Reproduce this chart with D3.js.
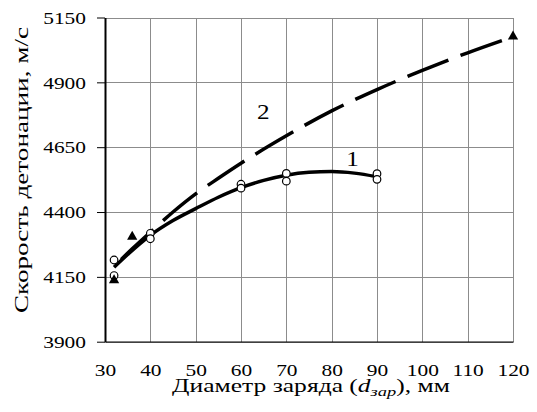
<!DOCTYPE html>
<meta charset="utf-8">
<style>
body { margin: 0; background: #fff; }
.grid line { stroke: #8c8c8c; stroke-width: 1; shape-rendering: crispEdges; }
</style>
<svg width="537" height="412"></svg>
<script src="https://d3js.org/d3.v7.min.js"></script>
<script>

// ticks
var xTicks = [30, 40, 50, 60, 70, 80, 90, 100, 110, 120];
var yTicks = [3900, 4150, 4400, 4650, 4900, 5150];

// curve 1 (solid, fitted)
var fit1X = [32, 35, 40, 45, 50, 55, 60, 65, 70, 75, 80, 85, 90];
var fit1Y = [4187, 4236, 4310, 4367, 4413, 4457, 4494, 4522, 4542, 4553, 4556, 4550, 4536];

// curve 2 (dashed, fitted)
var fit2X = [32, 36, 40, 45, 50, 55, 60, 70, 80, 90, 100, 110, 120];
var fit2Y = [4190, 4258, 4322, 4400, 4470, 4530, 4588, 4694, 4790, 4872, 4946, 5014, 5076];

// measured points, series 1 (open circles)
var pts1X = [32, 32, 40, 40, 60, 60, 70, 70, 90, 90];
var pts1Y = [4215, 4155, 4318, 4297, 4507, 4492, 4549, 4519, 4548, 4526];

// measured points, series 2 (triangles)
var pts2X = [32, 36, 120];
var pts2Y = [4137, 4305, 5077];

var curveLabels = ["1", "2"];
var labelX = [84.6, 64.9];
var labelY = [4603, 4787];

var svg = d3.select("svg");
var serif = "Liberation Serif";
var sx = 1.26; // glyphs in the picture are wider than plain Times

var x = d3.scaleLinear().domain([30, 120]).range([105, 513]);
var y = d3.scaleLinear().domain([3900, 5150]).range([341.7, 17.5]);

// grid
var grid = svg.append("g").attr("class", "grid");
grid.selectAll(".v")
  .data(xTicks.slice(1))
  .enter().append("line")
    .attr("x1", function(d) { return Math.round(x(d)) + 0.5; })
    .attr("x2", function(d) { return Math.round(x(d)) + 0.5; })
    .attr("y1", y(5150))
    .attr("y2", y(3900));
grid.selectAll(".h")
  .data(yTicks.slice(1))
  .enter().append("line")
    .attr("x1", x(30))
    .attr("x2", x(120))
    .attr("y1", function(d) { return Math.round(y(d)) + 0.5; })
    .attr("y2", function(d) { return Math.round(y(d)) + 0.5; });

// axes
var gy = svg.append("g")
    .attr("transform", "translate(" + x(30) + ",0)")
    .call(d3.axisLeft(y).tickValues(yTicks).tickFormat(d3.format("d")).tickSize(8).tickSizeOuter(0));
gy.select(".domain").attr("stroke", "#000").attr("stroke-width", 2);
gy.selectAll(".tick line").attr("stroke", "#000");
gy.selectAll(".tick text")
    .attr("x", 0).attr("dy", "0.34em")
    .style("font-family", serif)
    .style("font-size", "17px")
    .attr("transform", "translate(-19,0) scale(" + sx + ",1)");

var gx = svg.append("g")
    .attr("transform", "translate(0," + y(3900) + ")")
    .call(d3.axisBottom(x).tickValues(xTicks).tickSize(0).tickSizeOuter(0));
gx.select(".domain").attr("stroke", "#000").attr("stroke-width", 1.3);
gx.selectAll(".tick text")
    .attr("y", 0).attr("dy", null)
    .style("font-family", serif)
    .style("font-size", "17px")
    .attr("transform", "translate(0,34) scale(" + sx + ",1)");

// axis titles
svg.append("text")
    .attr("transform", "translate(311,392) scale(1.42,1)")
    .attr("text-anchor", "middle")
    .style("font-family", serif)
    .style("font-size", "18px")
    .call(function(t) {
      t.append("tspan").text("Диаметр заряда (");
      t.append("tspan").attr("font-style", "italic").text("d");
      t.append("tspan").attr("font-style", "italic").style("font-size", "13px").attr("dy", 4).text("зар");
      t.append("tspan").attr("dy", -4).text("), мм");
    });

svg.append("text")
    .attr("transform", "translate(28,170) rotate(-90) scale(1.43,1)")
    .attr("text-anchor", "middle")
    .style("font-family", serif)
    .style("font-size", "19px")
    .text("Скорость детонации, м/с");

// curves
var line = d3.line()
    .x(function(d) { return x(d[0]); })
    .y(function(d) { return y(d[1]); })
    .curve(d3.curveMonotoneX);

var dash = [44, 13];
var dashed = svg.append("path")
    .datum(d3.zip(fit2X, fit2Y))
    .attr("fill", "none")
    .attr("stroke", "#000")
    .attr("stroke-width", 3.5)
    .attr("d", line);

// line the dash phase up with a dash that starts near x = 63
var node = dashed.node(), total = node.getTotalLength(), s = 0;
while (s < total && node.getPointAtLength(s).x < x(63.1)) s += 0.5;
var period = dash[0] + dash[1];
dashed.attr("stroke-dasharray", dash.join(","))
    .attr("stroke-dashoffset", ((period - s % period) % period));

svg.append("path")
    .datum(d3.zip(fit1X, fit1Y))
    .attr("fill", "none")
    .attr("stroke", "#000")
    .attr("stroke-width", 3.5)
    .attr("d", line);

// markers
svg.append("g").selectAll("circle")
  .data(d3.zip(pts1X, pts1Y))
  .enter().append("circle")
    .attr("cx", function(d) { return x(d[0]); })
    .attr("cy", function(d) { return y(d[1]); })
    .attr("r", 3.8)
    .attr("fill", "#fff")
    .attr("stroke", "#000")
    .attr("stroke-width", 1.2);

svg.append("g").selectAll("path")
  .data(d3.zip(pts2X, pts2Y))
  .enter().append("path")
    .attr("transform", function(d) { return "translate(" + x(d[0]) + "," + y(d[1]) + ")"; })
    .attr("d", d3.symbol(d3.symbolTriangle).size(46))
    .attr("fill", "#000");

// curve labels
svg.append("g").selectAll("text")
  .data(curveLabels)
  .enter().append("text")
    .attr("transform", function(d, i) { return "translate(" + x(labelX[i]) + "," + y(labelY[i]) + ") scale(" + sx + ",1)"; })
    .attr("text-anchor", "middle")
    .attr("dy", "0.35em")
    .style("font-family", serif)
    .style("font-size", "20px")
    .text(function(d) { return d; });

</script>
